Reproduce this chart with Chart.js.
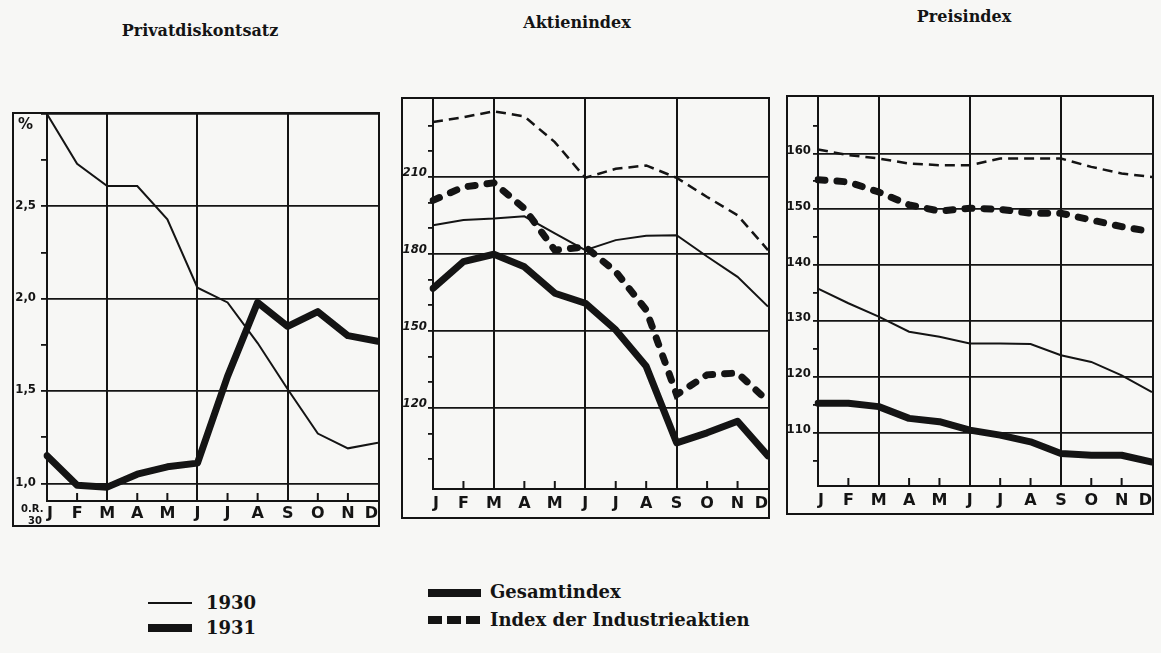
<!DOCTYPE html>
<html><head><meta charset="utf-8">
<script src="https://cdn.jsdelivr.net/npm/chart.js@4.4.1/dist/chart.umd.min.js"></script>
<style>
html,body{margin:0;padding:0;}
body{width:1161px;height:653px;background:#f7f7f5;position:relative;overflow:hidden;color:#141414;}
.panel{position:absolute;border:2px solid #141414;}
.panel canvas{display:block;}
.title{position:absolute;font-family:"DejaVu Serif";font-weight:bold;font-size:16px;transform:translate(-50%,-50%);white-space:nowrap;}
.leg{position:absolute;font-family:"DejaVu Serif";font-weight:bold;font-size:18px;white-space:nowrap;line-height:1;transform:translateY(-50%);}
.sw{position:absolute;background:#141414;}
.small{position:absolute;font-family:"DejaVu Sans";font-weight:bold;white-space:nowrap;line-height:1;}
</style></head><body>

<div class="title" style="left:200px;top:30px">Privatdiskontsatz</div>
<div class="title" style="left:577px;top:22px">Aktienindex</div>
<div class="title" style="left:964px;top:16px">Preisindex</div>

<div class="panel" style="left:12px;top:112px;width:364px;height:411px"><canvas id="c1" width="364" height="411"></canvas></div>
<div class="panel" style="left:401px;top:97px;width:365px;height:418px"><canvas id="c2" width="365" height="418"></canvas></div>
<div class="panel" style="left:786px;top:95px;width:364px;height:416px"><canvas id="c3" width="364" height="416"></canvas></div>

<div class="small" style="left:18px;top:117px;font-size:15px">%</div>
<div class="small" style="left:21px;top:504px;font-size:10px">0.R.</div>
<div class="small" style="left:28px;top:516px;font-size:10px">30</div>

<div class="sw" style="left:148px;top:602px;width:44px;height:2px"></div>
<div class="leg" style="left:206px;top:603px">1930</div>
<div class="sw" style="left:148px;top:624px;width:44px;height:8px"></div>
<div class="leg" style="left:206px;top:628px">1931</div>
<div class="sw" style="left:428px;top:589px;width:53px;height:8px"></div>
<div class="leg" style="left:490px;top:592px">Gesamtindex</div>
<div class="sw" style="left:428px;top:616px;width:53px;height:8px;background:repeating-linear-gradient(90deg,#141414 0 14px,transparent 14px 19px)"></div>
<div class="leg" style="left:490px;top:620px">Index der Industrieaktien</div>

<script>
// ---- data ----
const months = ['J','F','M','A','M','J','J','A','S','O','N','D'];

// Privatdiskontsatz (%)
const disc1930 = [3.00, 2.73, 2.61, 2.61, 2.43, 2.06, 1.98, 1.76, 1.51, 1.27, 1.19, 1.22];
const disc1931 = [1.15, 0.99, 0.98, 1.05, 1.09, 1.11, 1.58, 1.98, 1.85, 1.93, 1.80, 1.77];
const discMajor = [1.0, 1.5, 2.0, 2.5, 3.0];
const discMinor = [1.25, 1.75, 2.25, 2.75];

// Aktienindex
const aktGes1930 = [191.2, 193.2, 193.8, 194.7, 188.0, 181.5, 185.4, 187.1, 187.3, 179.0, 171.1, 159.5];
const aktGes1931 = [166.6, 177.0, 179.9, 175.0, 164.7, 160.8, 150.4, 136.2, 106.4, 110.3, 114.8, 101.3];
const aktInd1930 = [231.4, 233.3, 235.6, 233.6, 223.6, 209.7, 213.2, 214.5, 209.7, 202.2, 195.1, 181.5];
const aktInd1931 = [200.9, 206.1, 207.7, 197.7, 181.5, 182.8, 173.1, 158.2, 125.2, 132.9, 133.6, 122.6];
const aktMajor = [120, 150, 180, 210];
const aktMinor = [100, 110, 130, 140, 160, 170, 190, 200, 220, 230];

// Preisindex
const prGes1930 = [135.8, 133.2, 130.8, 128.1, 127.2, 126.0, 126.0, 125.9, 123.9, 122.7, 120.3, 117.3];
const prGes1931 = [115.3, 115.3, 114.7, 112.6, 112.0, 110.5, 109.6, 108.4, 106.3, 106.0, 106.0, 104.8];
const prInd1930 = [160.7, 159.7, 159.1, 158.2, 157.9, 157.9, 159.1, 159.1, 159.1, 157.6, 156.4, 155.8];
const prInd1931 = [155.3, 154.9, 153.1, 150.8, 149.7, 150.2, 150.0, 149.3, 149.3, 148.1, 146.9, 146.0];
const prMajor = [110, 120, 130, 140, 150, 160];
const prMinor = [105, 115, 125, 135, 145, 155, 165];

// ---- styling ----
const INK = '#141414';
const NONE = 'rgba(0,0,0,0)';
const gridMonths = [2, 5, 8];

const thin = d => ({data:d, borderColor:INK, borderWidth:2, tension:0, pointRadius:0});
const thick = d => ({data:d, borderColor:INK, borderWidth:7, tension:0, pointRadius:0, borderJoinStyle:'round', borderCapStyle:'round'});
const thinDash = d => ({data:d, borderColor:INK, borderWidth:2.5, borderDash:[10,6], tension:0, pointRadius:0});
const thickDash = d => ({data:d, borderColor:INK, borderWidth:7, borderDash:[7,12], borderCapStyle:'round', tension:0, pointRadius:0});

const innerTicks = {
  id:'innerTicks',
  beforeDatasetsDraw(chart){
    const x = chart.scales.x, ctx = chart.ctx, b = chart.chartArea.bottom;
    ctx.save(); ctx.strokeStyle = INK; ctx.lineWidth = 2;
    x.ticks.forEach((t,i) => {
      if (i === 0 || i === 11 || gridMonths.includes(i)) return;
      const px = x.getPixelForTick(i);
      ctx.beginPath(); ctx.moveTo(px, b); ctx.lineTo(px, b - 8); ctx.stroke();
    });
    ctx.restore();
  }
};

function makePanel(id, o){
  const all = o.major.concat(o.minor).sort((a,b)=>a-b);
  new Chart(document.getElementById(id), {
    type:'line',
    data:{labels:months, datasets:o.datasets},
    options:{
      responsive:false, animation:false, devicePixelRatio:1,
      layout:{padding:0},
      plugins:{legend:{display:false}, tooltip:{enabled:false}},
      scales:{
        x:{
          type:'category', offset:false,
          grid:{color:c => gridMonths.includes(c.index) ? INK : NONE, lineWidth:2, drawTicks:false},
          border:{color:INK, width:2},
          ticks:{color:INK, font:{family:'DejaVu Sans', weight:'bold', size:16}, padding:o.xPad, align:'inner', maxRotation:0, autoSkip:false},
          afterFit:s => { s.height = o.xH; s.paddingLeft = 0; s.paddingRight = 0; }
        },
        y:{
          min:o.min, max:o.max,
          afterBuildTicks:s => { s.ticks = all.map(v => ({value:v})); },
          grid:{color:c => (c.tick && o.major.includes(c.tick.value)) ? INK : NONE, tickColor:INK, tickLength:o.tl, lineWidth:1.8},
          border:{color:INK, width:2},
          ticks:{color:INK, font:{family:'DejaVu Sans Condensed', weight:'bold', size:o.fs, style:o.fst || 'normal'}, padding:o.pad, labelOffset:o.lo,
                 callback:v => o.labels.includes(v) ? o.fmt(v) : ''},
          afterFit:s => { s.width = o.yW; s.paddingTop = 0; s.paddingBottom = 0; }
        }
      }
    },
    plugins:[innerTicks]
  });
}

makePanel('c1', {
  min:0.905, max:3.0, major:discMajor, minor:discMinor, labels:[1.0,1.5,2.0,2.5],
  fmt:v => v.toFixed(1).replace('.', ','), yW:33, xH:24, xPad:3, tl:6, pad:5, fs:13, lo:-1,
  datasets:[thin(disc1930), thick(disc1931)]
});
makePanel('c2', {
  min:88.4, max:240.4, major:aktMajor, minor:aktMinor, labels:aktMajor,
  fmt:v => String(v), yW:30, xH:28, xPad:5, tl:5, pad:1, fs:13, fst:'italic', lo:-4,
  datasets:[thinDash(aktInd1930), thickDash(aktInd1931), thin(aktGes1930), thick(aktGes1931)]
});
makePanel('c3', {
  min:100.5, max:170.1, major:prMajor, minor:prMinor, labels:prMajor,
  fmt:v => String(v), yW:30, xH:27, xPad:5, tl:5, pad:2, fs:13, lo:-3,
  datasets:[thinDash(prInd1930), thickDash(prInd1931), thin(prGes1930), thick(prGes1931)]
});
</script>
</body></html>
